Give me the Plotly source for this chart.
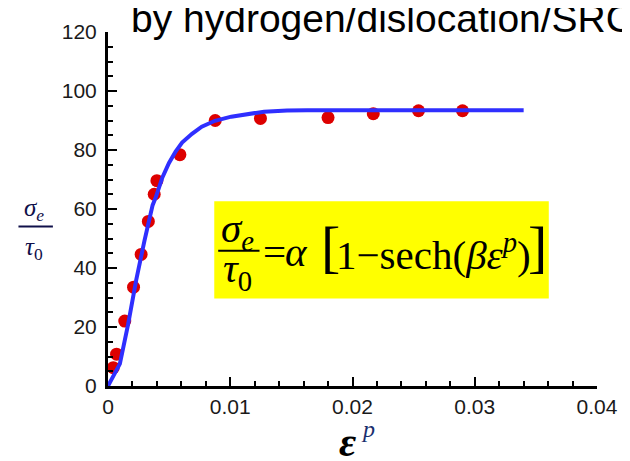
import plotly.graph_objects as go

# ---- data ----
ep_data = [0.00043, 0.0007, 0.00137, 0.00209, 0.00271, 0.0033, 0.00378, 0.0040,
           0.00588, 0.00877, 0.01247, 0.0180, 0.0217, 0.0254, 0.0290]
sig_data = [6.2, 10.8, 22.0, 33.5, 44.6, 55.8, 65.0, 69.6,
            78.4, 90.0, 90.7, 91.0, 92.3, 93.3, 93.3]

ep_fit = [0, 0.00097, 0.00164, 0.00231, 0.00298, 0.00365, 0.00392, 0.00445,
          0.00499, 0.00553, 0.00606, 0.00687, 0.00767, 0.00875, 0.01008,
          0.01143, 0.01277, 0.01465, 0.0163, 0.034]
sig_fit = [0, 7.5, 20.8, 36.0, 49.2, 61.3, 64.1, 70.7,
           75.6, 79.5, 82.5, 85.5, 87.9, 89.9, 91.3,
           92.3, 93.0, 93.4, 93.5, 93.5]

x_ticks = [0, 0.01, 0.02, 0.03, 0.04]
x_ticklabels = ["0", "0.01", "0.02", "0.03", "0.04"]
y_ticks = [0, 20, 40, 60, 80, 100, 120]
y_ticklabels = ["0", "20", "40", "60", "80", "100", "120"]

title_text = "by hydrogen/dislocation/SRC"

# ---- geometry ----
# the page body adds an 8px margin, so the figure is drawn 8px smaller
# and all window-pixel positions are shifted by that offset
OFF = 8
W, H = 630 - OFF, 461 - OFF
L, R, T, B = 108 - OFF, 25, 22 - OFF, 75
PW = W - L - R
PH = H - T - B


def xp(px):  # window pixel -> paper x
    return (px - OFF - L) / PW


def yp(py):  # window pixel -> paper y
    return (H - B - (py - OFF)) / PH


SERIF = "Liberation Serif, Times New Roman, serif"
SANS = "Liberation Sans, Arial, sans-serif"

fig = go.Figure()
fig.add_trace(go.Scatter(x=ep_data, y=sig_data, mode="markers",
                         marker=dict(color="#dd0000", size=13, line=dict(width=0)),
                         showlegend=False, cliponaxis=False))
fig.add_trace(go.Scatter(x=ep_fit, y=sig_fit, mode="lines",
                         line=dict(color="#2f2fff", width=4),
                         showlegend=False))

axis_common = dict(showline=True, linecolor="black", linewidth=3, mirror=False,
                   ticks="inside", tickcolor="black", tickwidth=2, ticklen=9,
                   showgrid=False, zeroline=False,
                   tickfont=dict(family=SANS, size=21, color="#1a1a1a"))

fig.update_xaxes(range=[0, 0.04], tickvals=x_ticks, ticktext=x_ticklabels,
                 minor=dict(ticks="inside", dtick=0.002, ticklen=5, tickwidth=1.5,
                            tickcolor="black", showgrid=False),
                 ticklabelstandoff=0, **axis_common)
fig.update_yaxes(range=[0, 120], tickvals=y_ticks, ticktext=y_ticklabels,
                 minor=dict(ticks="inside", dtick=5, ticklen=5, tickwidth=1.5,
                            tickcolor="black", showgrid=False),
                 ticklabelstandoff=4, **axis_common)

anns = []
# title (overflows right edge and top, as in the reference)
anns.append(dict(text=title_text, x=xp(129), y=yp(8), xanchor="left", yanchor="middle",
                 font=dict(family=SANS, size=39, color="black")))

# y-axis label fraction
anns.append(dict(text="<i>σ</i><sub><i>e</i></sub>", x=xp(33), y=yp(204), xanchor="center",
                 yanchor="middle", font=dict(family=SERIF, size=25, color="#10104a")))
anns.append(dict(text="<i>τ</i><sub>0</sub>", x=xp(33), y=yp(245), xanchor="center",
                 yanchor="middle", font=dict(family=SERIF, size=25, color="#10104a")))

# x-axis label
anns.append(dict(text="<b><i>ε</i></b>", x=xp(351), y=yp(444), xanchor="center",
                 yanchor="middle", font=dict(family=SERIF, size=42, color="black")))
anns.append(dict(text="<i>p</i>", x=xp(372), y=yp(430), xanchor="center",
                 yanchor="middle", font=dict(family=SERIF, size=24, color="#1a2f6e")))

# equation pieces
EQ = dict(family=SERIF, size=41, color="black")
anns.append(dict(text="<i>σ</i><sub><i>e</i></sub>", x=xp(240), y=yp(227), xanchor="center",
                 yanchor="middle", font=EQ))
anns.append(dict(text="<i>τ</i><sub>0</sub>", x=xp(240), y=yp(268), xanchor="center",
                 yanchor="middle", font=EQ))
anns.append(dict(text="=", x=xp(263), y=yp(248), xanchor="left",
                 yanchor="middle", font=EQ))
anns.append(dict(text="<i>α</i>", x=xp(286), y=yp(248), xanchor="left",
                 yanchor="middle", font=EQ))
anns.append(dict(text="[", x=xp(322), y=yp(243), xanchor="left",
                 yanchor="middle", font=dict(family=SERIF, size=58, color="black")))
anns.append(dict(text="1−sech(<i>βε</i><sup><i>p</i></sup>)", x=xp(338), y=yp(248),
                 xanchor="left", yanchor="middle", font=EQ))
anns.append(dict(text="]", x=xp(533), y=yp(243), xanchor="left",
                 yanchor="middle", font=dict(family=SERIF, size=58, color="black")))

for a in anns:
    a.update(xref="paper", yref="paper", showarrow=False)

shapes = [
    dict(type="rect", xref="paper", yref="paper", x0=xp(216), x1=xp(556),
         y0=yp(296), y1=yp(196), fillcolor="#ffff00", line=dict(width=0), layer="below"),
    dict(type="line", xref="paper", yref="paper", x0=xp(220), x1=xp(262),
         y0=yp(247), y1=yp(247), line=dict(color="black", width=2)),
    dict(type="line", xref="paper", yref="paper", x0=xp(17), x1=xp(52),
         y0=yp(222), y1=yp(222), line=dict(color="#10104a", width=2)),
]

fig.update_layout(width=W, height=H, margin=dict(l=L, r=R, t=T, b=B, pad=0),
                  paper_bgcolor="white", plot_bgcolor="white",
                  annotations=anns, shapes=shapes, showlegend=False)

fig.write_html("out.html")
